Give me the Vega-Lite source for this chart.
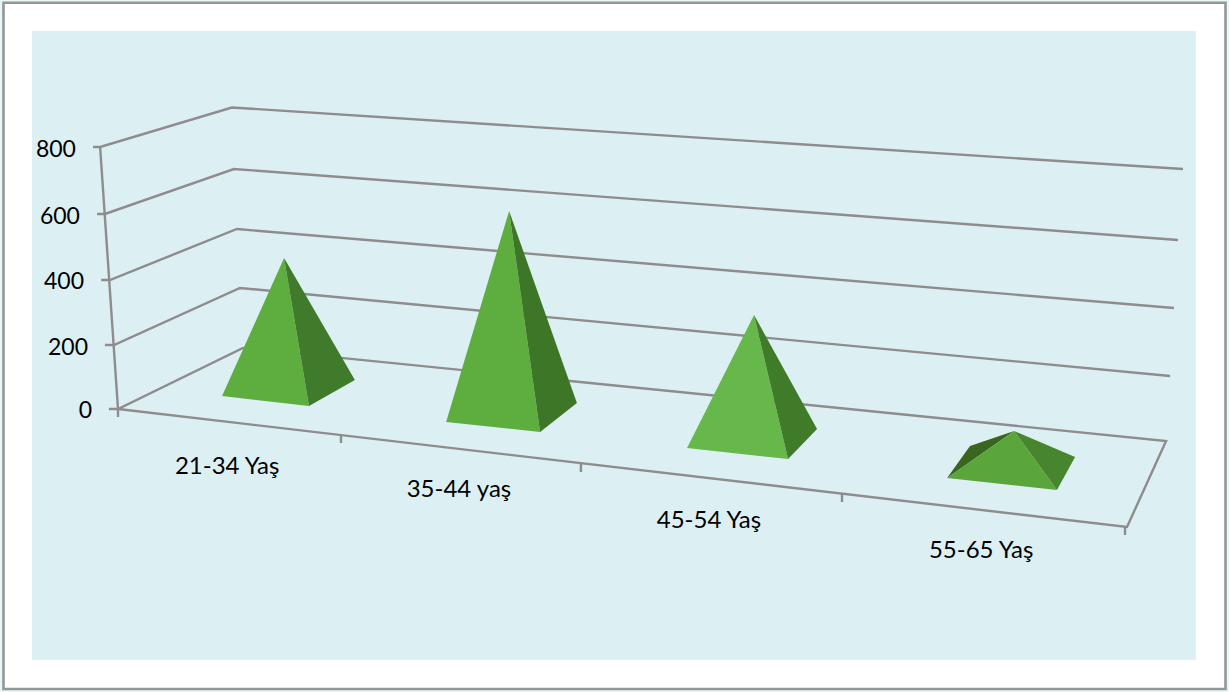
{
"$schema":"https://vega.github.io/schema/vega-lite/v6.json",
"width":1229,"height":692,"padding":0,
"autosize":{"type":"fit","contains":"padding"},
"background":"#e6f7f7",
"config":{"view":{"stroke":null}},
"datasets":{
"panels":[
{"part":"sheet","x":-0.4544,"x2":4.3948,"y":1240.6,"y2":-855},
{"part":"plot","x":-0.3413,"x2":4.2778,"y":1154.2,"y2":-766.4}
],
"frame":[
{"id":"g800","n":1,"x":-0.099,"y":800},{"id":"g800","n":2,"x":-0.071,"y":800},{"id":"g800","n":3,"x":0.452,"y":920.6},{"id":"g800","n":4,"x":4.226,"y":732.8},
{"id":"g600","n":1,"x":-0.083,"y":595.4},{"id":"g600","n":2,"x":-0.052,"y":595.4},{"id":"g600","n":3,"x":0.46,"y":732.8},{"id":"g600","n":4,"x":4.206,"y":516},
{"id":"g400","n":1,"x":-0.067,"y":393.9},{"id":"g400","n":2,"x":-0.032,"y":393.9},{"id":"g400","n":3,"x":0.472,"y":549.6},{"id":"g400","n":4,"x":4.19,"y":308.4},
{"id":"g200","n":1,"x":-0.052,"y":195.4},{"id":"g200","n":2,"x":-0.016,"y":195.4},{"id":"g200","n":3,"x":0.484,"y":369.5},{"id":"g200","n":4,"x":4.175,"y":100.8},
{"id":"floor","n":1,"x":-0.036,"y":0},{"id":"floor","n":2,"x":0,"y":0},{"id":"floor","n":3,"x":0.496,"y":186.3},{"id":"floor","n":4,"x":4.159,"y":-97.7},{"id":"floor","n":5,"x":4.004,"y":-360.3},{"id":"floor","n":6,"x":0,"y":0},
{"id":"wall","n":1,"x":-0.071,"y":800},{"id":"wall","n":2,"x":0,"y":0},{"id":"wall","n":3,"x":0,"y":-24.4},
{"id":"t1","n":1,"x":0.885,"y":-79.4},{"id":"t1","n":2,"x":0.885,"y":-103.8},
{"id":"t2","n":1,"x":1.837,"y":-164.9},{"id":"t2","n":2,"x":1.837,"y":-192.4},
{"id":"t3","n":1,"x":2.873,"y":-259.5},{"id":"t3","n":2,"x":2.873,"y":-284},
{"id":"t4","n":1,"x":3.996,"y":-360.3},{"id":"t4","n":2,"x":3.996,"y":-384.7}
],
"faces":[
{"face":"a-front","n":1,"x":0.413,"y":39.7},{"face":"a-front","n":2,"x":0.659,"y":461.1},{"face":"a-front","n":3,"x":0.758,"y":9.2},
{"face":"a-right","n":1,"x":0.659,"y":461.1},{"face":"a-right","n":2,"x":0.758,"y":9.2},{"face":"a-right","n":3,"x":0.94,"y":88.5},
{"face":"b-front","n":1,"x":1.302,"y":-39.7},{"face":"b-front","n":2,"x":1.552,"y":604.6},{"face":"b-front","n":3,"x":1.675,"y":-70.2},
{"face":"b-right","n":1,"x":1.552,"y":604.6},{"face":"b-right","n":2,"x":1.675,"y":-70.2},{"face":"b-right","n":3,"x":1.821,"y":18.3},
{"face":"c-front","n":1,"x":2.258,"y":-119.1},{"face":"c-front","n":2,"x":2.524,"y":287},{"face":"c-front","n":3,"x":2.659,"y":-152.7},
{"face":"c-right","n":1,"x":2.524,"y":287},{"face":"c-right","n":2,"x":2.659,"y":-152.7},{"face":"c-right","n":3,"x":2.774,"y":-61.1},
{"face":"d-back","n":1,"x":3.29,"y":-210.7},{"face":"d-back","n":2,"x":3.381,"y":-113},{"face":"d-back","n":3,"x":3.556,"y":-67.2},
{"face":"d-front","n":1,"x":3.29,"y":-210.7},{"face":"d-front","n":2,"x":3.556,"y":-67.2},{"face":"d-front","n":3,"x":3.726,"y":-247.3},
{"face":"d-right","n":1,"x":3.556,"y":-67.2},{"face":"d-right","n":2,"x":3.726,"y":-247.3},{"face":"d-right","n":3,"x":3.798,"y":-146.6}
],
"values":[
{"label":"800","x":-0.167,"y":790},{"label":"600","x":-0.151,"y":586},{"label":"400","x":-0.135,"y":388},{"label":"200","x":-0.119,"y":187},{"label":"0","x":-0.103,"y":-5}
],
"cats":[
{"label":"21-34 Yaş","x":0.433,"y":-200},{"label":"35-44 yaş","x":1.353,"y":-270},{"label":"45-54 Yaş","x":2.345,"y":-362},{"label":"55-65 Yaş","x":3.425,"y":-456}
]
},
"encoding":{
"x":{"field":"x","type":"quantitative","axis":null,"scale":{"domain":[-0.46825,4.40873],"nice":false,"zero":false}},
"y":{"field":"y","type":"quantitative","axis":null,"scale":{"domain":[-864.1,1248.8],"nice":false,"zero":false}}
},
"layer":[
{"data":{"name":"panels"},"transform":[{"filter":"datum.part==='sheet'"}],"mark":{"type":"rect","fill":"#ffffff","stroke":"#969696","strokeWidth":2.6},"encoding":{"x2":{"field":"x2"},"y2":{"field":"y2"}}},
{"data":{"name":"panels"},"transform":[{"filter":"datum.part==='plot'"}],"mark":{"type":"rect","fill":"#dcf0f3"},"encoding":{"x2":{"field":"x2"},"y2":{"field":"y2"}}},
{"data":{"name":"frame"},"mark":{"type":"line","stroke":"#8e8c8c","strokeWidth":2.4,"strokeJoin":"miter"},"encoding":{"detail":{"field":"id"},"order":{"field":"n"}}},
{"data":{"name":"faces"},"mark":{"type":"line","filled":true,"strokeWidth":0},"encoding":{
"order":{"field":"n"},
"fill":{"field":"face","type":"nominal","legend":null,"scale":{"domain":["a-front","a-right","b-front","b-right","c-front","c-right","d-back","d-front","d-right"],"range":["#5eae3f","#3f7b2a","#5eae3f","#3d7626","#67b84a","#3f7b28","#38661f","#5aa63b","#48852f"]}}
}},
{"data":{"name":"values"},"mark":{"type":"text","align":"right","baseline":"middle","font":"Lato","fontSize":23,"fill":"#000000"},"encoding":{"text":{"field":"label"}}},
{"data":{"name":"cats"},"mark":{"type":"text","align":"center","baseline":"alphabetic","font":"Lato","fontSize":24,"fill":"#000000"},"encoding":{"text":{"field":"label"}}}
]
}
